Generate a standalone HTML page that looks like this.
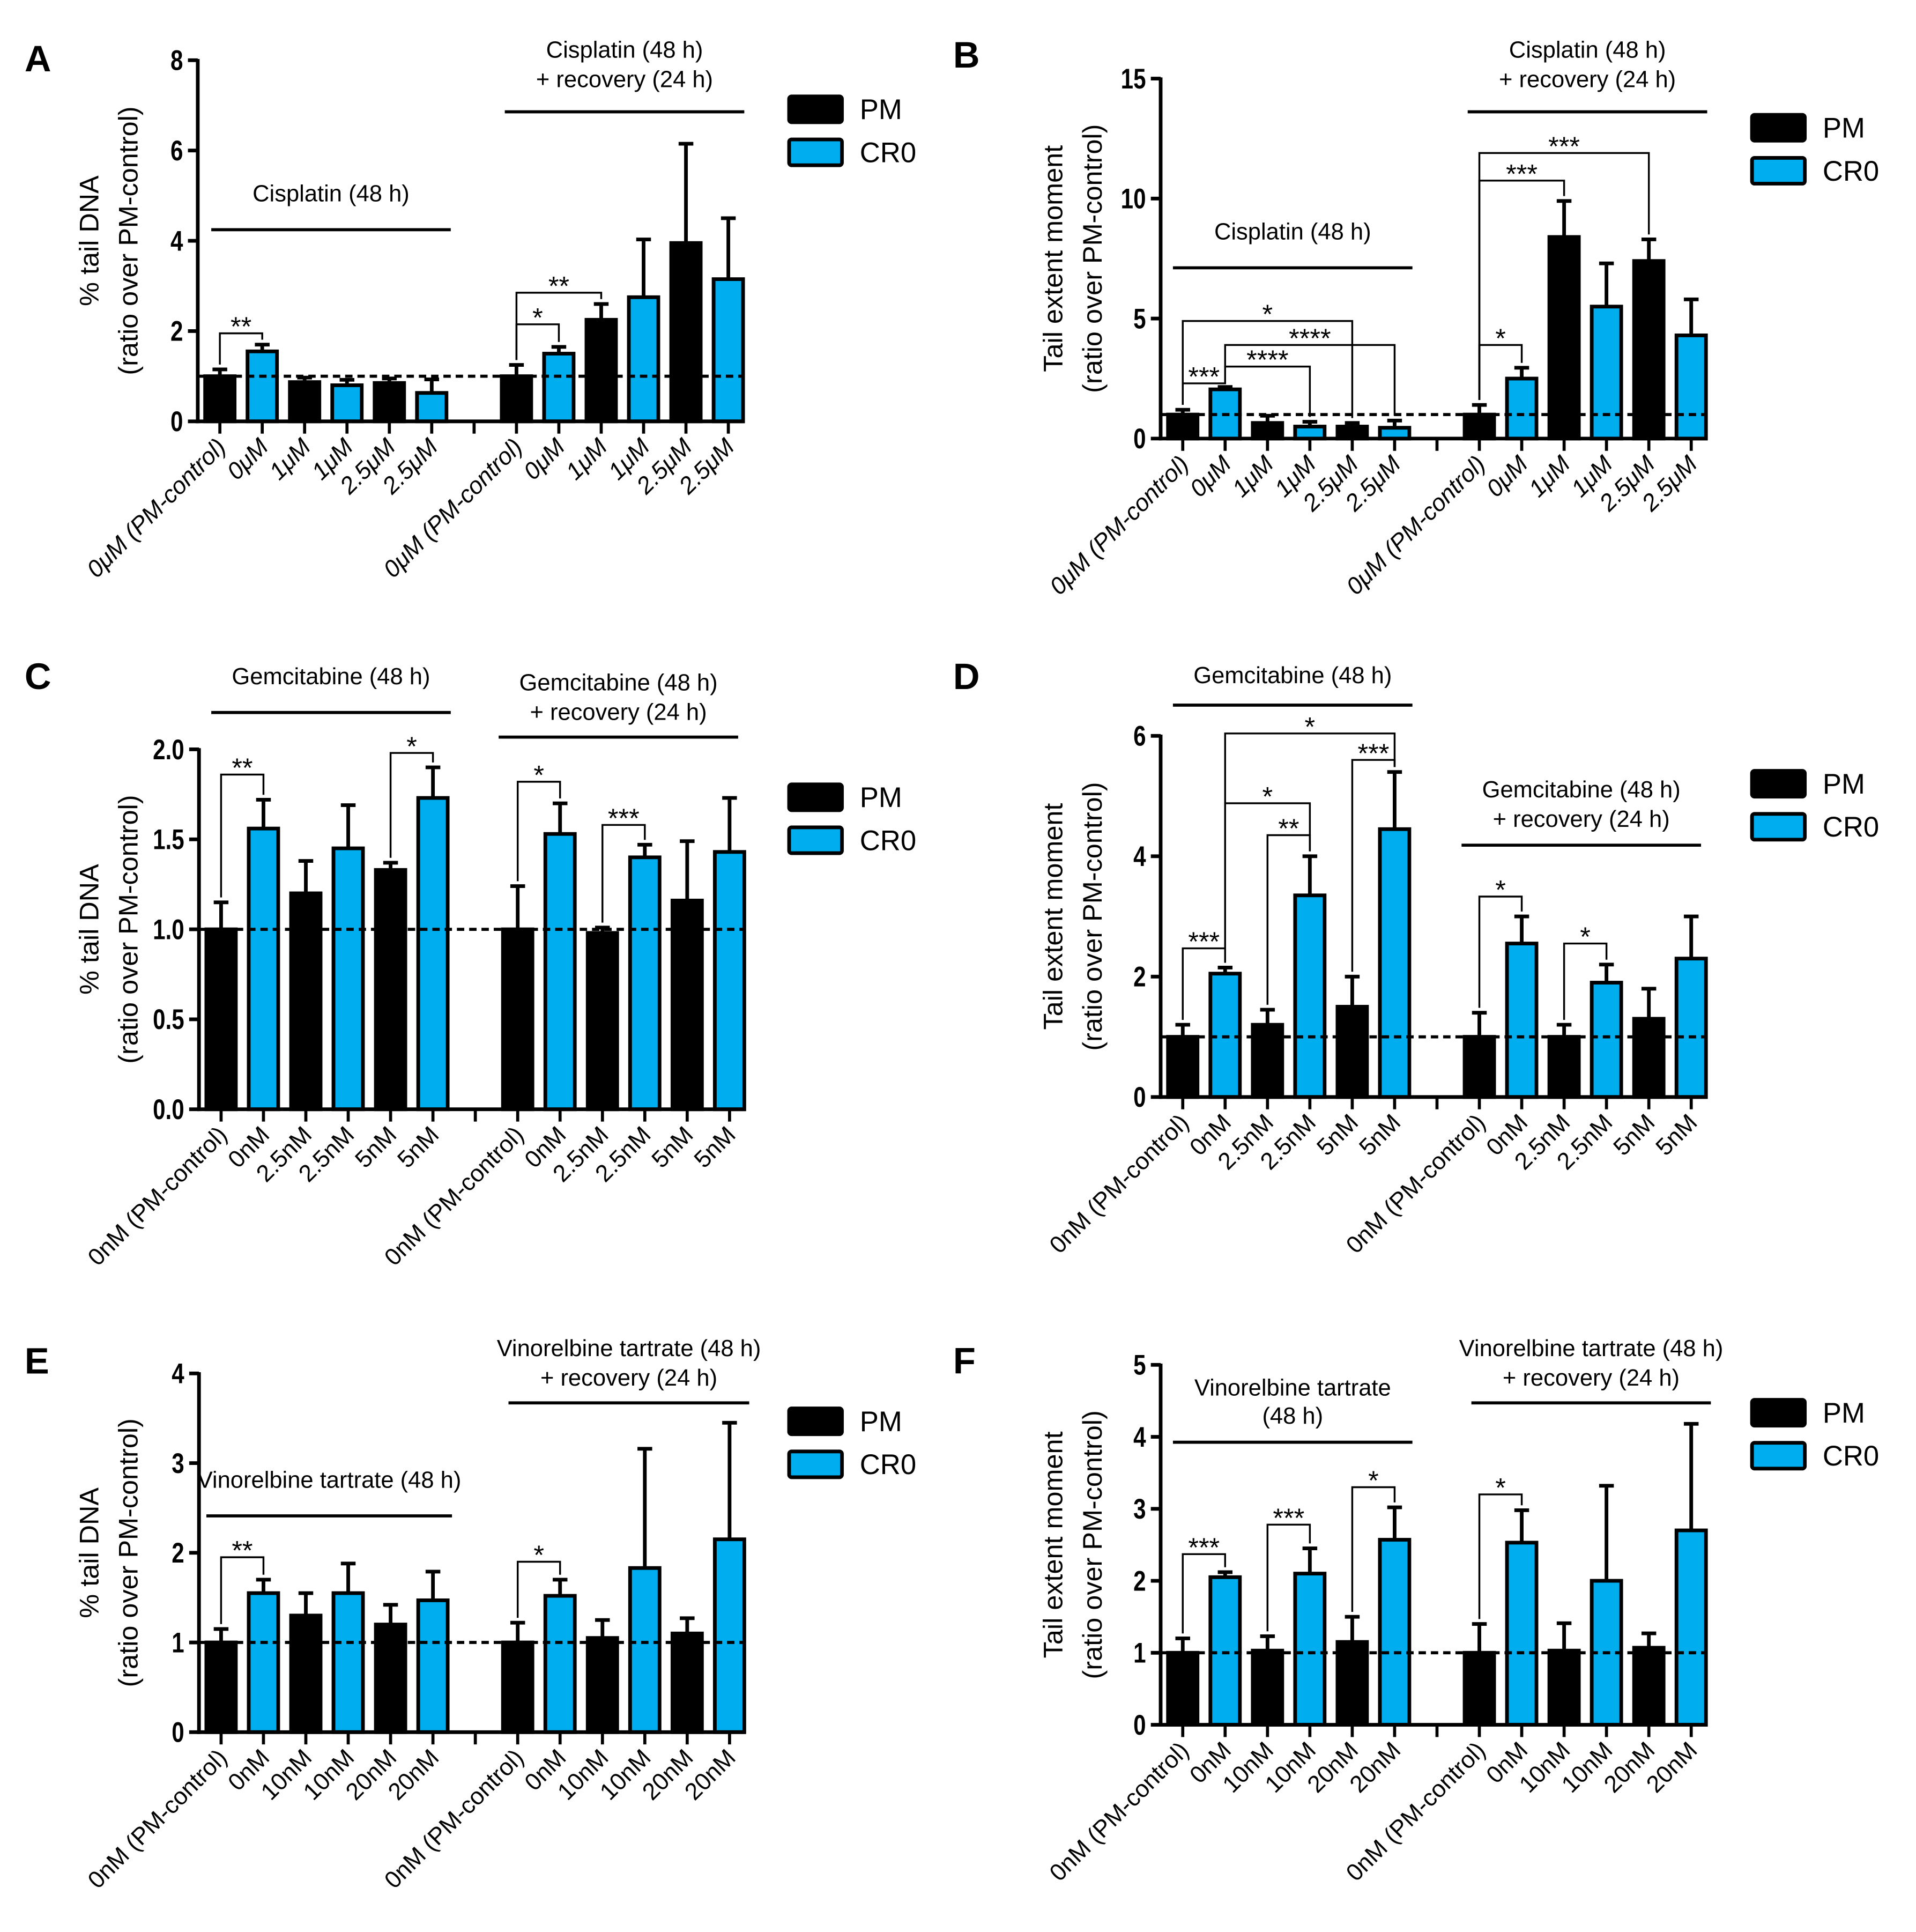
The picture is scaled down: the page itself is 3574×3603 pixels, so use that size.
<!DOCTYPE html>
<html><head><meta charset="utf-8"><style>
html,body{margin:0;padding:0;background:#fff}
svg{display:block}
text{font-family:"Liberation Sans",Arial,sans-serif;fill:#000}
</style></head><body>
<svg id="fig" width="3574" height="3603" viewBox="0 0 1560 1572.7" xmlns="http://www.w3.org/2000/svg"></svg>
<script>
// ---- data ----
const catsA = ["0μM (PM-control)","0μM","1μM","1μM","2.5μM","2.5μM","","0μM (PM-control)","0μM","1μM","1μM","2.5μM","2.5μM"];
const catsC = ["0nM (PM-control)","0nM","2.5nM","2.5nM","5nM","5nM","","0nM (PM-control)","0nM","2.5nM","2.5nM","5nM","5nM"];
const catsE = ["0nM (PM-control)","0nM","10nM","10nM","20nM","20nM","","0nM (PM-control)","0nM","10nM","10nM","20nM","20nM"];
const groups = ["PM","CR0","PM","CR0","PM","CR0","","PM","CR0","PM","CR0","PM","CR0"];
const valA=[1.0,1.55,0.87,0.8,0.85,0.63,null,1.0,1.5,2.25,2.75,3.95,3.15];
const errA=[0.15,0.15,0.1,0.12,0.1,0.3,null,0.25,0.15,0.35,1.28,2.2,1.35];
const valB=[1.0,2.05,0.65,0.5,0.5,0.45,null,1.0,2.5,8.4,5.5,7.4,4.3];
const errB=[0.2,0.1,0.3,0.2,0.15,0.3,null,0.4,0.45,1.5,1.8,0.9,1.5];
const valC=[1.0,1.56,1.2,1.45,1.33,1.73,null,1.0,1.53,0.98,1.4,1.16,1.43];
const errC=[0.15,0.16,0.18,0.24,0.04,0.17,null,0.24,0.17,0.03,0.07,0.33,0.3];
const valD=[1.0,2.05,1.2,3.35,1.5,4.45,null,1.0,2.55,1.0,1.9,1.3,2.3];
const errD=[0.2,0.1,0.25,0.65,0.5,0.95,null,0.4,0.45,0.2,0.3,0.5,0.7];
const valE=[1.0,1.55,1.3,1.55,1.2,1.47,null,1.0,1.52,1.05,1.83,1.1,2.15];
const errE=[0.15,0.15,0.25,0.33,0.22,0.32,null,0.22,0.18,0.2,1.33,0.17,1.3];
const valF=[1.0,2.05,1.03,2.1,1.15,2.57,null,1.0,2.53,1.03,2.0,1.07,2.7];
const errF=[0.2,0.07,0.2,0.35,0.35,0.45,null,0.4,0.45,0.38,1.32,0.2,1.48];
const ticksA=[0,2,4,6,8], ticksB=[0,5,10,15], ticksC=["0.0","0.5","1.0","1.5","2.0"], ticksD=[0,2,4,6], ticksE=[0,1,2,3,4], ticksF=[0,1,2,3,4,5];
const sigA=[[0,1,1.95,"**"],[7,8,2.15,"*"],[7,9,2.85,"**"]];
const sigB=[[0,1,2.3,"***"],[1,3,3.0,"****"],[0,4,4.9,"*"],[1,5,3.9,"****"],[7,8,3.9,"*"],[7,9,10.75,"***"],[7,11,11.9,"***"]];
const sigC=[[0,1,1.86,"**"],[4,5,1.98,"*"],[7,8,1.82,"*"],[9,10,1.58,"***"]];
const sigD=[[0,1,2.47,"***"],[2,3,4.35,"**"],[1,3,4.88,"*"],[4,5,5.6,"***"],[1,5,6.04,"*"],[7,8,3.33,"*"],[9,10,2.55,"*"]];
const sigE=[[0,1,1.95,"**"],[7,8,1.9,"*"]];
const sigF=[[0,1,2.37,"***"],[2,3,2.78,"***"],[4,5,3.3,"*"],[7,8,3.2,"*"]];

const NS="http://www.w3.org/2000/svg";
const svg=document.getElementById('fig');
function el(tag,attrs,parent,txt){const e=document.createElementNS(NS,tag);for(const k in attrs)e.setAttribute(k,attrs[k]);if(txt!==undefined)e.textContent=txt;(parent||svg).appendChild(e);return e;}

const panels=[
 {id:"a",letter:"A",lx:20,ly:58,x0:179,yTop:49,yBot:343,max:8,vals:valA,errs:errA,ticks:ticksA,cats:catsA,sig:sigA,italic:true,
  yl1:"% tail DNA",ylx:72,
  leftT:["Cisplatin (48 h)"],leftTy:157,leftLine:[172,367,187],
  rightT:["Cisplatin (48 h)","+ recovery (24 h)"],rightTy:40,rightLine:[411,606,91],leg:[641,77]},
 {id:"b",letter:"B",lx:776,ly:55,x0:963,yTop:64,yBot:357,max:15,vals:valB,errs:errB,ticks:ticksB,cats:catsA,sig:sigB,italic:true,
  yl1:"Tail extent moment",ylx:857,
  leftT:["Cisplatin (48 h)"],leftTy:188,leftLine:[955,1150,218],
  rightT:["Cisplatin (48 h)","+ recovery (24 h)"],rightTy:40,rightLine:[1195,1390,91],leg:[1425,92]},
 {id:"c",letter:"C",lx:20,ly:561,x0:180,yTop:610,yBot:903,max:2,vals:valC,errs:errC,ticks:ticksC,cats:catsC,sig:sigC,italic:false,
  yl1:"% tail DNA",ylx:72,
  leftT:["Gemcitabine (48 h)"],leftTy:550,leftLine:[172,367,580],
  rightT:["Gemcitabine (48 h)","+ recovery (24 h)"],rightTy:555,rightLine:[406,601,600],leg:[641,637]},
 {id:"d",letter:"D",lx:776,ly:561,x0:963,yTop:599,yBot:893,max:6,vals:valD,errs:errD,ticks:ticksD,cats:catsC,sig:sigD,italic:false,
  yl1:"Tail extent moment",ylx:857,
  leftT:["Gemcitabine (48 h)"],leftTy:549,leftLine:[955,1150,574],
  rightT:["Gemcitabine (48 h)","+ recovery (24 h)"],rightTy:642,rightLine:[1190,1385,688],leg:[1425,626]},
 {id:"e",letter:"E",lx:20,ly:1118,x0:180,yTop:1118,yBot:1410,max:4,vals:valE,errs:errE,ticks:ticksE,cats:catsE,sig:sigE,italic:false,
  yl1:"% tail DNA",ylx:72,
  leftT:["Vinorelbine tartrate (48 h)"],leftTy:1204,leftLine:[168,368,1234],
  rightT:["Vinorelbine tartrate (48 h)","+ recovery (24 h)"],rightTy:1097,rightLine:[414,610,1142],leg:[641,1145]},
 {id:"f",letter:"F",lx:776,ly:1118,x0:963,yTop:1111,yBot:1404,max:5,vals:valF,errs:errF,ticks:ticksF,cats:catsE,sig:sigF,italic:false,
  yl1:"Tail extent moment",ylx:857,
  leftT:["Vinorelbine tartrate","(48 h)"],leftTy:1129,leftLine:[955,1150,1174],
  rightT:["Vinorelbine tartrate (48 h)","+ recovery (24 h)"],rightTy:1097,rightLine:[1198,1393,1142],leg:[1425,1138]}
];
const SW=34.5, BW=24, BLUE="#00aeef";

panels.forEach(p=>{
  const g=el('g',{});
  
  
  const xc=i=>p.x0+i*SW;
  const y=v=>p.yBot-(v/p.max)*(p.yBot-p.yTop);
  const axX=p.x0-18, axEnd=xc(12)+13;
  const L=el('text',{x:p.lx,y:p.ly,'font-size':30,'font-weight':'bold'},g,p.letter);
  
  
  const ya=el('line',{x1:axX,y1:p.yTop-1,x2:axX,y2:p.yBot+1.5,stroke:'#000','stroke-width':3},g);
  
  
  p.ticks.forEach(t=>{
    const v=parseFloat(t), ty=y(v);
    el('line',{x1:axX-8,y1:ty,x2:axX,y2:ty,stroke:'#000','stroke-width':3},g);
    const tl=el('text',{x:(axX-12)/0.8,y:ty+8,'font-size':23,'font-weight':'bold','text-anchor':'end',transform:'scale(0.8,1)'},g,String(t));
    
    
  });
  const cy=(p.yTop+p.yBot)/2;
  const yt=el('text',{x:0,y:0,'font-size':22,'text-anchor':'middle',transform:`translate(${p.ylx+8},${cy}) rotate(-90)`},g,p.yl1);
  
  
  const yt2=el('text',{x:0,y:0,'font-size':22,'text-anchor':'middle',transform:`translate(${p.ylx+40},${cy}) rotate(-90)`},g,"(ratio over PM-control)");
  
  
  p.vals.forEach((v,i)=>{
    if(v===null) return;
    const x=xc(i), top=y(v), et=y(v+p.errs[i]);
    el('line',{x1:x,y1:top,x2:x,y2:et,stroke:'#000','stroke-width':3},g);
    el('line',{x1:x-6,y1:et,x2:x+6,y2:et,stroke:'#000','stroke-width':3},g);
    const b=el('rect',{x:x-BW/2,y:top,width:BW,height:p.yBot-top,fill:groups[i]==="PM"?'#000':BLUE,stroke:'#000','stroke-width':3},g);
    
    
  });
  const dl=el('line',{x1:axX,y1:y(1),x2:axEnd,y2:y(1),stroke:'#000','stroke-width':2.5,'stroke-dasharray':'6,4'},g);
  
  
  const xa=el('line',{x1:axX-1.5,y1:p.yBot,x2:axEnd,y2:p.yBot,stroke:'#000','stroke-width':3},g);
  
  
  p.cats.forEach((c,i)=>{
    const x=xc(i);
    el('line',{x1:x,y1:p.yBot,x2:x,y2:p.yBot+10,stroke:'#000','stroke-width':2.5},g);
    if(!c) return;
    const t=el('text',{x:0,y:0,'font-size':19.5,'text-anchor':'end','font-style':p.italic?'italic':'normal',transform:`translate(${x+6},${p.yBot+22}) rotate(-45)`},g,c);
    
    
  });
  p.sig.forEach(s=>{
    const [a,b,lv,lab]=s, ly=y(lv);
    const ba=y(p.vals[a]+p.errs[a])-4, bb=y(p.vals[b]+p.errs[b])-4;
    const pth=el('path',{d:`M${xc(a)},${ba} L${xc(a)},${ly} L${xc(b)},${ly} L${xc(b)},${bb}`,fill:'none',stroke:'#000','stroke-width':1.5},g);
    
    
    const st=el('text',{x:(xc(a)+xc(b))/2,y:ly+2,'font-size':22,'text-anchor':'middle'},g,lab);
    
    
  });
  const lcx=(p.leftLine[0]+p.leftLine[1])/2, rcx=(p.rightLine[0]+p.rightLine[1])/2;
  p.leftT.forEach((t,k)=>{
    const e=el('text',{x:lcx,y:p.leftTy+7+k*23,'font-size':19,'text-anchor':'middle'},g,t);
    
    
  });
  p.rightT.forEach((t,k)=>{
    const e=el('text',{x:rcx,y:p.rightTy+7+k*24,'font-size':19,'text-anchor':'middle'},g,t);
    
    
  });
  const l1=el('line',{x1:p.leftLine[0],y1:p.leftLine[2],x2:p.leftLine[1],y2:p.leftLine[2],stroke:'#000','stroke-width':2.5},g);
  
  
  const l2=el('line',{x1:p.rightLine[0],y1:p.rightLine[2],x2:p.rightLine[1],y2:p.rightLine[2],stroke:'#000','stroke-width':2.5},g);
  
  
  const [gx,gy]=p.leg;
  [["PM","#000"],["CR0",BLUE]].forEach((d,k)=>{
    const r=el('rect',{x:gx+1.5,y:gy+k*35+1.5,width:43,height:21,rx:2,fill:d[1],stroke:'#000','stroke-width':3},g);
    
    
    const t=el('text',{x:gx+59,y:gy+k*35+20,'font-size':23},g,d[0]);
    
    
  });
});
</script>
</body></html>
